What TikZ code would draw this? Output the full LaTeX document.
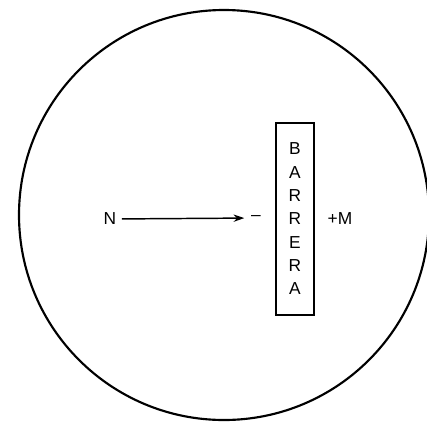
\documentclass[tikz,border=0pt]{standalone}
\usepackage{fontspec}
\setmainfont{Liberation Sans}
\usetikzlibrary{arrows,arrows.meta,positioning}

\begin{document}
\begin{tikzpicture}[
  x=0.75pt, y=-0.75pt,
  lbl/.style={inner sep=1pt, font=\fontsize{13}{15}\selectfont},
  barbox/.style={rectangle, draw, line width=1.3pt, minimum width=28.5pt, minimum height=144pt, align=center, inner sep=0pt, font=\fontsize{13}{17.5}\selectfont},
  arrow/.style={-{Stealth[length=8pt,width=5.5pt]}, line width=1.1pt, shorten <=3pt, shorten >=4pt}
]
  \useasboundingbox (0,0) rectangle (427,425);
  \draw[line width=1.6pt] (224,215) circle (205);
  \node[barbox] (bar) at (295,219) {B\\A\\R\\R\\E\\R\\A};
  \node[lbl] (n) at (110,219) {N};
  \node[lbl] (minus) at (256,218) {--};
  \node[lbl] (m) at (340,219) {+M};
  \draw[arrow] (n) -- (minus);
\end{tikzpicture}
\end{document}
